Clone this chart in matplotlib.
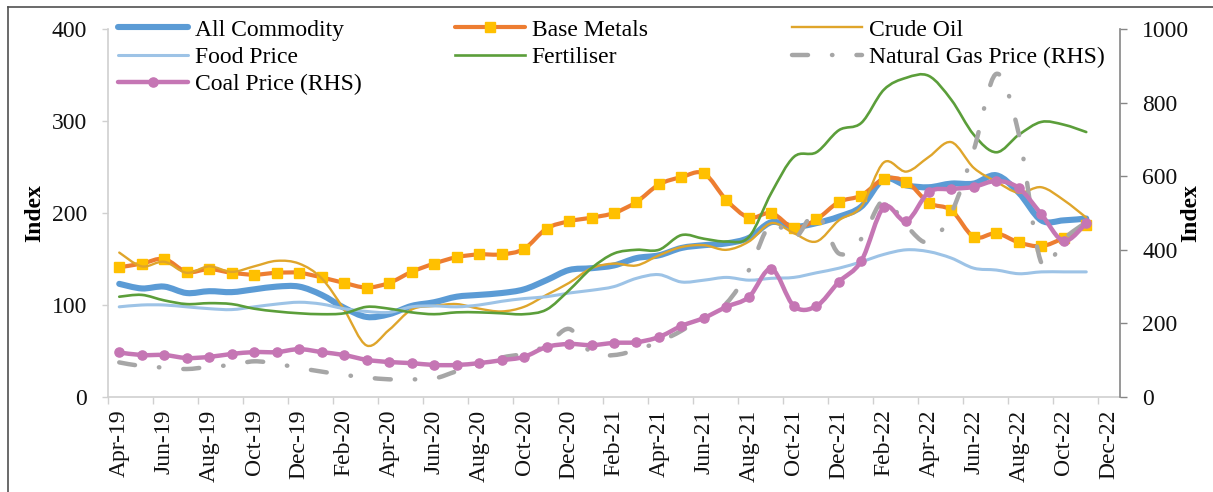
import matplotlib
matplotlib.use("Agg")
import matplotlib.pyplot as plt
import numpy as np
from matplotlib.lines import Line2D
from matplotlib.patches import PathPatch
from matplotlib.path import Path

# monthly data, Apr-19 .. Nov-22
TICK_LABELS = [
    "Apr-19", "Jun-19", "Aug-19", "Oct-19", "Dec-19",
    "Feb-20", "Apr-20", "Jun-20", "Aug-20", "Oct-20", "Dec-20",
    "Feb-21", "Apr-21", "Jun-21", "Aug-21", "Oct-21", "Dec-21",
    "Feb-22", "Apr-22", "Jun-22", "Aug-22", "Oct-22", "Dec-22",
]
ALL_COMMODITY = [123, 118, 120, 113, 115, 114, 117, 120, 120, 111,
                 97, 87, 90, 99, 103, 109, 111, 113, 117, 127,
                 138, 140, 143, 151, 154, 162, 165, 167, 173, 190,
                 185, 189, 196, 207, 237, 230, 228, 232, 232, 241,
                 222, 192, 192, 194]
BASE_METALS = [141, 145, 150, 136, 139, 135, 133, 135, 135, 130,
               124, 119, 124, 136, 145, 152, 155, 155, 161, 183,
               191, 195, 200, 212, 231, 239, 243, 214, 195, 200,
               184, 193, 212, 219, 237, 234, 211, 203, 174, 178,
               168, 164, 173, 187]
CRUDE_OIL = [157, 142, 147, 135, 142, 136, 142, 148, 145, 129,
             95, 56, 73, 95, 99, 101, 96, 93, 98, 111,
             124, 140, 145, 143, 154, 163, 165, 160, 169, 189,
             178, 169, 192, 207, 255, 245, 261, 277, 249, 234,
             222, 228, 214, 195]
FOOD_PRICE = [98, 100, 100, 98, 96, 95, 98, 101, 103, 101,
              96, 93, 92, 98, 99, 98, 100, 104, 107, 109,
              113, 116, 120, 129, 133, 125, 127, 130, 127, 129,
              130, 135, 140, 147, 155, 160, 158, 151, 140, 138,
              134, 136, 136, 136]
FERTILISER = [109, 111, 105, 101, 102, 101, 96, 93, 91, 90,
              91, 98, 96, 92, 90, 92, 92, 91, 90, 95,
              116, 140, 156, 160, 160, 176, 172, 169, 174, 222,
              261, 266, 290, 298, 334, 347, 349, 323, 285, 266,
              285, 299, 296, 288]
NATURAL_GAS = [94, 84, 80, 76, 82, 87, 97, 90, 79, 69,
               60, 53, 48, 48, 50, 70, 88, 107, 118, 140,
               185, 120, 114, 128, 150, 180, 220, 255, 345, 473,
               430, 500, 390, 430, 535, 465, 420, 500, 672, 878,
               715, 365, 430, 475]
COAL = [121, 114, 114, 106, 109, 117, 122, 122, 130, 122,
        114, 101, 95, 92, 87, 87, 92, 100, 109, 136,
        144, 141, 147, 149, 163, 193, 215, 245, 272, 348,
        247, 247, 313, 370, 516, 478, 557, 565, 571, 587,
        568, 497, 424, 473]

C_ALL = "#5B9BD5"
C_BASE = "#ED7D31"
C_BASE_MK = "#FFC000"
C_CRUDE = "#DFA52B"
C_FOOD = "#9DC3E6"
C_FERT = "#5B9E3A"
C_GAS = "#A6A6A6"
C_COAL = "#C576B4"
GAS_DASH = (0, (3.6, 5.4, 0.1, 5.4))

plt.rcParams["font.family"] = ["Liberation Serif", "DejaVu Serif"]
plt.rcParams["font.size"] = 17


def smooth_path(xs, ys):
    # Catmull-Rom style bezier, like a spreadsheet "smoothed line"
    pts = np.column_stack([xs, ys]).astype(float)
    n = len(pts)
    verts = [pts[0]]
    codes = [Path.MOVETO]
    for i in range(n - 1):
        p0 = pts[max(i - 1, 0)]
        p1 = pts[i]
        p2 = pts[i + 1]
        p3 = pts[min(i + 2, n - 1)]
        verts += [p1 + (p2 - p0) / 6, p2 - (p3 - p1) / 6, p2]
        codes += [Path.CURVE4] * 3
    return Path(verts, codes)


def draw_smooth(ax, ys, color, lw, ls="-", z=2):
    xs = np.arange(len(ys))
    patch = PathPatch(smooth_path(xs, ys), fill=False, edgecolor=color, lw=lw,
                      linestyle=ls, capstyle="round", joinstyle="round", zorder=z)
    ax.add_patch(patch)


fig = plt.figure(figsize=(12.13, 4.92), dpi=100)
fig.patch.set_facecolor("white")
ax = fig.add_axes([108 / 1213, 95 / 492, 1012 / 1213, 368 / 492])
ax2 = ax.twinx()

x = np.arange(len(ALL_COMMODITY))

draw_smooth(ax, ALL_COMMODITY, C_ALL, 4.4, z=2)
draw_smooth(ax, BASE_METALS, C_BASE, 3.0, z=3)
ax.plot(x, BASE_METALS, ls="none", marker="s", ms=7.2, mfc=C_BASE_MK, mec=C_BASE_MK, zorder=4)
draw_smooth(ax, CRUDE_OIL, C_CRUDE, 1.7, z=5)
draw_smooth(ax, FOOD_PRICE, C_FOOD, 2.2, z=5)
draw_smooth(ax, FERTILISER, C_FERT, 1.9, z=6)

draw_smooth(ax2, NATURAL_GAS, C_GAS, 3.2, ls=GAS_DASH, z=2)
draw_smooth(ax2, COAL, C_COAL, 3.2, z=3)
ax2.plot(x, COAL, ls="none", marker="o", ms=6.6, mfc=C_COAL, mec=C_COAL, zorder=4)

ax.set_xlim(-0.5, len(ALL_COMMODITY) + 0.5)
ax.set_ylim(0, 400)
ax2.set_ylim(0, 1000)
ax.set_yticks(range(0, 401, 100))
ax2.set_yticks(range(0, 1001, 200))

ax.set_xticks(np.arange(0, 2 * len(TICK_LABELS), 2))
ax.set_xticklabels(TICK_LABELS, rotation=90, ha="center", va="top")
ax.set_xticks(np.arange(-0.5, 2 * len(TICK_LABELS) - 1, 2), minor=True)
ax.tick_params(axis="x", which="major", length=0, pad=9, labelcolor="#111111")
ax.tick_params(axis="x", which="minor", length=5, color="#D0D0D0", width=1)
ax.tick_params(axis="y", length=4, color="#D0D0D0", width=1, pad=11, labelcolor="#111111")
ax2.tick_params(axis="y", length=5, color="#868686", width=1, pad=11, labelcolor="#111111")

for s in ["top", "right"]:
    ax.spines[s].set_visible(False)
for s in ["left", "bottom"]:
    ax.spines[s].set_color("#D0D0D0")
    ax.spines[s].set_linewidth(1.2)
for s in ["top", "left", "bottom"]:
    ax2.spines[s].set_visible(False)
ax2.spines["right"].set_color("#868686")
ax2.spines["right"].set_linewidth(1.2)

ax.set_ylabel("Index", fontweight="bold")
ax.yaxis.set_label_coords(-0.062, 0.5)
ax2.set_ylabel("Index", fontweight="bold", rotation=90)
ax2.yaxis.set_label_coords(1.060, 0.5)

h_all = Line2D([], [], color=C_ALL, lw=4.4, solid_capstyle="round")
h_base = Line2D([], [], color=C_BASE, lw=3.0, marker="s", ms=7.2, mfc=C_BASE_MK, mec=C_BASE_MK,
                solid_capstyle="round")
h_crude = Line2D([], [], color=C_CRUDE, lw=1.7)
h_food = Line2D([], [], color=C_FOOD, lw=2.2, solid_capstyle="round")
h_fert = Line2D([], [], color=C_FERT, lw=1.9)
h_gas = Line2D([], [], color=C_GAS, lw=3.2, ls=GAS_DASH, dash_capstyle="round")
h_coal = Line2D([], [], color=C_COAL, lw=3.2, marker="o", ms=6.6, mfc=C_COAL, mec=C_COAL,
                solid_capstyle="round")

columns = [
    (118, [h_all, h_food, h_coal], ["All Commodity", "Food Price", "Coal Price (RHS)"]),
    (455, [h_base, h_fert], ["Base Metals", "Fertiliser"]),
    (792, [h_crude, h_gas], ["Crude Oil", "Natural Gas Price (RHS)"]),
]
for x0, handles, labels in columns:
    fig.legend(handles, labels, loc="upper left", bbox_to_anchor=(x0 / 1213, 1 - 19 / 492),
               bbox_transform=fig.transFigure, frameon=False, borderpad=0, borderaxespad=0,
               handlelength=2.95, handletextpad=0.3, labelspacing=0.25, numpoints=1,
               fontsize=17)

# thin frame round the picture (top and left edges only are visible)
fig.add_artist(Line2D([8 / 1213, 1], [1 - 7 / 492] * 2, transform=fig.transFigure,
                      color="#505050", lw=1.2))
fig.add_artist(Line2D([8 / 1213] * 2, [0, 1 - 7 / 492], transform=fig.transFigure,
                      color="#505050", lw=1.2))

fig.savefig("out.png", dpi=100, facecolor="white")
